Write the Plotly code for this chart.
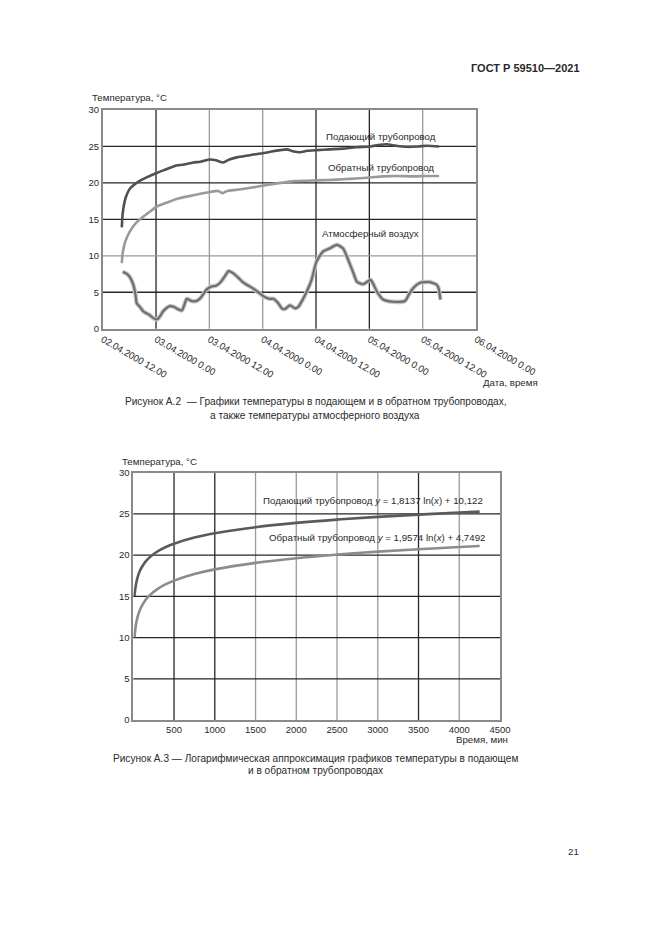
import plotly.graph_objects as go

W, H = 661, 935
OFF = 8  # page body margin of the browser, compensated in all placements
FONT = "Liberation Sans, Arial, sans-serif"
TXT = "#2a2a2a"

# ---------------- Figure A.2 data (hours since 02.04.2000 12:00) ----------------
x1_tickvals = [0, 12, 24, 36, 48, 60, 72, 84]
x1_ticktext = ["02.04.2000 12.00", "03.04.2000 0.00", "03.04.2000 12.00",
               "04.04.2000 0.00", "04.04.2000 12.00", "05.04.2000 0.00",
               "05.04.2000 12.00", "06.04.2000 0.00"]
y_ticks = [0, 5, 10, 15, 20, 25, 30]

supply_h = [4.3, 4.5, 5.0, 5.5, 6.1, 7.0, 8.4, 10.0, 12.3, 14.0, 16.6, 18.0, 20.4, 22.0,
            24.1, 25.5, 27.1, 28.5, 30.2, 33.1, 36.3, 38.0, 40.0, 41.4, 43.0, 44.4, 46.0,
            48.2, 51.0, 54.1, 57.0, 60.3, 62.0, 63.9, 66.0, 68.4, 71.0, 73.0, 75.7]
supply_t = [13.9, 15.8, 17.6, 18.5, 19.2, 19.7, 20.3, 20.8, 21.4, 21.8, 22.4, 22.5, 22.8, 22.9,
            23.2, 23.1, 22.8, 23.2, 23.5, 23.8, 24.1, 24.3, 24.5, 24.6, 24.3, 24.2, 24.4,
            24.5, 24.6, 24.7, 24.9, 25.0, 25.2, 25.3, 25.1, 24.95, 25.0, 25.1, 25.0]

return_h = [4.3, 4.5, 5.0, 6.0, 7.5, 9.0, 10.5, 12.3, 14.5, 16.6, 20.4, 24.1, 26.0, 27.0,
            28.0, 30.2, 33.0, 36.3, 40.0, 43.0, 46.0, 48.2, 51.0, 54.1, 57.0, 60.3, 63.0,
            66.0, 70.0, 73.0, 75.7]
return_t = [9.0, 10.4, 11.8, 13.2, 14.5, 15.3, 16.0, 16.8, 17.3, 17.8, 18.3, 18.75, 18.9, 18.6,
            18.9, 19.05, 19.3, 19.65, 20.0, 20.25, 20.3, 20.35, 20.4, 20.5, 20.6, 20.75, 20.9,
            20.95, 20.9, 20.95, 20.95]

air_h = [4.5, 5.5, 6.1, 6.9, 7.4, 7.65, 8.5, 9.1, 10.5, 11.4, 12.3, 13.0, 13.6, 14.5, 15.1,
         16.0, 16.6, 17.8, 18.5, 18.9, 20.0, 21.1, 22.0, 23.4, 24.5, 25.5, 26.4, 27.5, 28.3,
         29.4, 30.5, 31.3, 32.5, 33.9, 35.0, 36.3, 37.5, 38.4, 39.5, 40.3, 41.0, 42.1, 43.3,
         44.0, 45.1, 46.0, 47.0, 48.1, 49.6, 51.0, 52.7, 54.1, 55.0, 55.6, 56.5, 57.2, 58.6,
         60.3, 61.0, 61.7, 63.1, 65.4, 68.0, 69.0, 69.9, 71.4, 73.6, 75.2, 75.6, 76.0]
air_t = [7.8, 7.5, 7.1, 6.0, 4.6, 3.5, 2.9, 2.4, 1.9, 1.45, 1.3, 1.8, 2.4, 2.9, 3.1,
         3.0, 2.8, 2.5, 3.5, 4.1, 3.8, 3.8, 4.2, 5.4, 5.8, 5.9, 6.3, 7.2, 7.9,
         7.6, 7.0, 6.5, 6.0, 5.5, 5.0, 4.4, 4.1, 4.1, 3.5, 2.8, 2.7, 3.2, 2.8,
         3.0, 4.1, 5.2, 6.7, 9.2, 10.6, 11.0, 11.5, 11.0, 9.8, 8.9, 7.5, 6.45, 6.1,
         6.7, 6.0, 5.1, 4.0, 3.7, 3.8, 4.8, 5.6, 6.3, 6.4, 6.0, 5.5, 4.0]

# ---------------- Figure A.3 data (minutes) ----------------
x2_ticks = [500, 1000, 1500, 2000, 2500, 3000, 3500, 4000, 4500]
fit_min = [15, 20, 30, 40, 60, 80, 100, 150, 200, 300, 400, 500, 750, 1000, 1500,
           2000, 2500, 3000, 3500, 4000, 4250]
fit_supply = [15.03, 15.55, 16.29, 16.81, 17.55, 18.07, 18.47, 19.21, 19.73, 20.47, 20.99,
              21.39, 22.13, 22.65, 23.39, 23.91, 24.31, 24.64, 24.92, 25.17, 25.28]
fit_return = [10.05, 10.61, 11.41, 11.97, 12.76, 13.33, 13.76, 14.56, 15.12, 15.91, 16.48,
              16.91, 17.71, 18.27, 19.06, 19.63, 20.06, 20.42, 20.72, 20.98, 21.10]

# gridline shades (scan shows mixed dark/grey lines)
DARK, GREY = "#262626", "#9a9a9a"
grid1_x = [(12, DARK), (24, GREY), (36, GREY), (48, DARK), (60, DARK), (72, GREY)]
grid1_y = [(5, DARK), (10, GREY), (15, DARK), (20, DARK), (25, DARK)]
grid2_x = [(500, DARK), (1000, DARK), (1500, GREY), (2000, GREY), (2500, GREY),
           (3000, GREY), (3500, DARK), (4000, GREY)]
grid2_y = [(5, DARK), (10, DARK), (15, DARK), (20, DARK), (25, DARK)]


def px(x):
    return (x - OFF) / W


def py(y):
    return 1 - (y - OFF) / H


fig = go.Figure()

# Figure A.2 traces
fig.add_trace(go.Scatter(x=air_h, y=air_t, mode="lines", xaxis="x", yaxis="y",
                         line=dict(color="#c8c8c8", width=4.5, shape="spline", smoothing=0.6),
                         hoverinfo="skip", showlegend=False))
fig.add_trace(go.Scatter(x=air_h, y=air_t, mode="lines", xaxis="x", yaxis="y",
                         line=dict(color="#6e6e6e", width=2.2, shape="spline", smoothing=0.6),
                         name="Атмосферный воздух", showlegend=False))
fig.add_trace(go.Scatter(x=return_h, y=return_t, mode="lines", xaxis="x", yaxis="y",
                         line=dict(color="#9a9a9a", width=2.6, shape="spline", smoothing=0.6),
                         name="Обратный трубопровод", showlegend=False))
fig.add_trace(go.Scatter(x=supply_h, y=supply_t, mode="lines", xaxis="x", yaxis="y",
                         line=dict(color="#505050", width=2.6, shape="spline", smoothing=0.6),
                         name="Подающий трубопровод", showlegend=False))

# Figure A.3 traces
fig.add_trace(go.Scatter(x=fit_min, y=fit_supply, mode="lines", xaxis="x2", yaxis="y2",
                         line=dict(color="#5a5a5a", width=2.6, shape="spline"),
                         name="Подающий трубопровод", showlegend=False))
fig.add_trace(go.Scatter(x=fit_min, y=fit_return, mode="lines", xaxis="x2", yaxis="y2",
                         line=dict(color="#8c8c8c", width=2.6, shape="spline"),
                         name="Обратный трубопровод", showlegend=False))

shapes = []
for xv, c in grid1_x:
    shapes.append(dict(type="line", xref="x", yref="y domain", x0=xv, x1=xv, y0=0, y1=1,
                       line=dict(color=c, width=1.3), layer="below"))
for yv, c in grid1_y:
    shapes.append(dict(type="line", xref="x domain", yref="y", x0=0, x1=1, y0=yv, y1=yv,
                       line=dict(color=c, width=1.3), layer="below"))
for xv, c in grid2_x:
    shapes.append(dict(type="line", xref="x2", yref="y2 domain", x0=xv, x1=xv, y0=0, y1=1,
                       line=dict(color=c, width=1.3), layer="below"))
for yv, c in grid2_y:
    shapes.append(dict(type="line", xref="x2 domain", yref="y2", x0=0, x1=1, y0=yv, y1=yv,
                       line=dict(color=c, width=1.3), layer="below"))

tickfont = dict(family=FONT, size=9.5, color=TXT)
axis_common = dict(showgrid=False, zeroline=False, showline=True, mirror=True,
                   linecolor="#8a8a8a", linewidth=1.5, ticks="", tickfont=tickfont,
                   automargin=False)

fig.update_layout(
    width=W, height=H, autosize=False,
    margin=dict(l=0, r=0, t=0, b=0, pad=0, autoexpand=False),
    paper_bgcolor="white", plot_bgcolor="white",
    showlegend=False,
    xaxis=dict(domain=[px(102.7), px(476)], range=[0, 84], tickvals=x1_tickvals,
               ticktext=x1_ticktext, tickangle=30, anchor="y", **axis_common),
    yaxis=dict(domain=[py(328.7), py(110)], range=[0, 30], tickvals=y_ticks, anchor="x",
               **axis_common),
    xaxis2=dict(domain=[px(133.3), px(500)], range=[0, 4500], tickvals=x2_ticks,
                anchor="y2", **axis_common),
    yaxis2=dict(domain=[py(720), py(472.7)], range=[0, 30], tickvals=y_ticks, anchor="x2",
                **axis_common),
    shapes=shapes,
)

ann_font = dict(family=FONT, size=9.7, color=TXT)


def ann(text, x, y, xanchor="center", size=None, bold=False):
    f = dict(ann_font)
    if size:
        f["size"] = size
    if bold:
        text = "<b>" + text + "</b>"
    fig.add_annotation(text=text, x=px(x), y=py(y), xref="paper", yref="paper",
                       xanchor=xanchor, yanchor="middle", showarrow=False, font=f)


ann("ГОСТ Р 59510—2021", 582, 68, xanchor="right", size=11, bold=True)

# Figure A.2 texts
ann("Температура, °С", 90, 97.5, xanchor="left")
ann("Подающий трубопровод", 381, 136)
ann("Обратный трубопровод", 381, 167.5)
ann("Атмосферный воздух", 370, 233.5)
ann("Дата, время", 540, 382.5, xanchor="right")
ann("Рисунок А.2  — Графики температуры в подающем и в обратном трубопроводах,", 316, 401, size=10.1)
ann("а также температуры атмосферного воздуха", 315, 416, size=10.1)

# Figure A.3 texts
ann("Температура, °С", 120, 461, xanchor="left")
ann("Подающий трубопровод <i>y</i> = 1,8137 ln(<i>x</i>) + 10,122", 485, 500.7, xanchor="right")
ann("Обратный трубопровод <i>y</i> = 1,9574 ln(<i>x</i>) + 4,7492", 487.3, 537.3, xanchor="right")
ann("Время, мин", 510, 739, xanchor="right")
ann("Рисунок А.3 — Логарифмическая аппроксимация графиков температуры в подающем", 315, 758, size=10.1)
ann("и в обратном трубопроводах", 315, 770, size=10.1)

ann("21", 581, 851, xanchor="right")

fig.write_html("out.html")
